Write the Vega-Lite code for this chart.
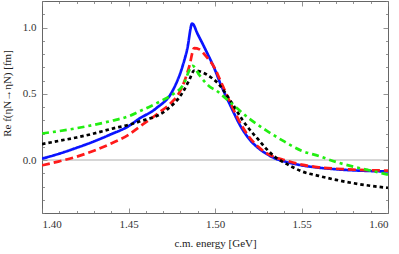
{
  "$schema": "https://vega.github.io/schema/vega-lite/v6.json",
  "width": 346,
  "height": 212,
  "autosize": "none",
  "padding": {"left": 42, "top": 1, "right": 11, "bottom": 41},
  "background": "white",
  "config": {
    "view": {"stroke": "#666", "strokeWidth": 1},
    "axis": {
      "grid": false,
      "domain": false,
      "labelFont": "Liberation Serif",
      "labelFontSize": 11,
      "labelColor": "#333",
      "titleFont": "Liberation Serif",
      "titleFontSize": 11,
      "titleFontWeight": "normal",
      "titleColor": "#222",
      "tickColor": "#777",
      "tickWidth": 0.8,
      "labelOverlap": false
    }
  },
  "datasets": {
    "curves": [
      {"E": 1.40, "f": 0.01, "s": "a"},
      {"E": 1.41, "f": 0.048, "s": "a"},
      {"E": 1.42, "f": 0.092, "s": "a"},
      {"E": 1.43, "f": 0.14, "s": "a"},
      {"E": 1.44, "f": 0.195, "s": "a"},
      {"E": 1.45, "f": 0.255, "s": "a"},
      {"E": 1.456, "f": 0.31, "s": "a"},
      {"E": 1.466, "f": 0.39, "s": "a"},
      {"E": 1.4756, "f": 0.525, "s": "a"},
      {"E": 1.4813, "f": 0.71, "s": "a"},
      {"E": 1.484, "f": 0.84, "s": "a"},
      {"E": 1.4868, "f": 1.03, "s": "a"},
      {"E": 1.49, "f": 0.95, "s": "a"},
      {"E": 1.495, "f": 0.82, "s": "a"},
      {"E": 1.50, "f": 0.68, "s": "a"},
      {"E": 1.5024, "f": 0.60, "s": "a"},
      {"E": 1.5093, "f": 0.40, "s": "a"},
      {"E": 1.515, "f": 0.25, "s": "a"},
      {"E": 1.52, "f": 0.155, "s": "a"},
      {"E": 1.525, "f": 0.09, "s": "a"},
      {"E": 1.53, "f": 0.045, "s": "a"},
      {"E": 1.535, "f": 0.01, "s": "a"},
      {"E": 1.54, "f": -0.01, "s": "a"},
      {"E": 1.55, "f": -0.04, "s": "a"},
      {"E": 1.56, "f": -0.058, "s": "a"},
      {"E": 1.57, "f": -0.07, "s": "a"},
      {"E": 1.58, "f": -0.078, "s": "a"},
      {"E": 1.59, "f": -0.083, "s": "a"},
      {"E": 1.60, "f": -0.087, "s": "a"},

      {"E": 1.40, "f": -0.04, "s": "b"},
      {"E": 1.41, "f": -0.01, "s": "b"},
      {"E": 1.42, "f": 0.025, "s": "b"},
      {"E": 1.43, "f": 0.07, "s": "b"},
      {"E": 1.44, "f": 0.125, "s": "b"},
      {"E": 1.45, "f": 0.19, "s": "b"},
      {"E": 1.4563, "f": 0.25, "s": "b"},
      {"E": 1.4679, "f": 0.36, "s": "b"},
      {"E": 1.4745, "f": 0.43, "s": "b"},
      {"E": 1.4794, "f": 0.51, "s": "b"},
      {"E": 1.4825, "f": 0.60, "s": "b"},
      {"E": 1.4852, "f": 0.71, "s": "b"},
      {"E": 1.488, "f": 0.845, "s": "b"},
      {"E": 1.491, "f": 0.835, "s": "b"},
      {"E": 1.495, "f": 0.78, "s": "b"},
      {"E": 1.50, "f": 0.69, "s": "b"},
      {"E": 1.5024, "f": 0.62, "s": "b"},
      {"E": 1.5093, "f": 0.42, "s": "b"},
      {"E": 1.515, "f": 0.27, "s": "b"},
      {"E": 1.52, "f": 0.17, "s": "b"},
      {"E": 1.525, "f": 0.10, "s": "b"},
      {"E": 1.53, "f": 0.05, "s": "b"},
      {"E": 1.535, "f": 0.02, "s": "b"},
      {"E": 1.54, "f": 0.0, "s": "b"},
      {"E": 1.55, "f": -0.035, "s": "b"},
      {"E": 1.56, "f": -0.055, "s": "b"},
      {"E": 1.57, "f": -0.066, "s": "b"},
      {"E": 1.58, "f": -0.073, "s": "b"},
      {"E": 1.59, "f": -0.077, "s": "b"},
      {"E": 1.60, "f": -0.08, "s": "b"},

      {"E": 1.40, "f": 0.12, "s": "c"},
      {"E": 1.41, "f": 0.145, "s": "c"},
      {"E": 1.42, "f": 0.17, "s": "c"},
      {"E": 1.43, "f": 0.20, "s": "c"},
      {"E": 1.44, "f": 0.235, "s": "c"},
      {"E": 1.45, "f": 0.265, "s": "c"},
      {"E": 1.4563, "f": 0.29, "s": "c"},
      {"E": 1.4717, "f": 0.375, "s": "c"},
      {"E": 1.4813, "f": 0.51, "s": "c"},
      {"E": 1.485, "f": 0.60, "s": "c"},
      {"E": 1.488, "f": 0.675, "s": "c"},
      {"E": 1.492, "f": 0.665, "s": "c"},
      {"E": 1.497, "f": 0.63, "s": "c"},
      {"E": 1.502, "f": 0.575, "s": "c"},
      {"E": 1.5093, "f": 0.44, "s": "c"},
      {"E": 1.516, "f": 0.30, "s": "c"},
      {"E": 1.52, "f": 0.23, "s": "c"},
      {"E": 1.525, "f": 0.155, "s": "c"},
      {"E": 1.53, "f": 0.08, "s": "c"},
      {"E": 1.535, "f": 0.02, "s": "c"},
      {"E": 1.54, "f": -0.02, "s": "c"},
      {"E": 1.545, "f": -0.055, "s": "c"},
      {"E": 1.55, "f": -0.085, "s": "c"},
      {"E": 1.56, "f": -0.12, "s": "c"},
      {"E": 1.57, "f": -0.15, "s": "c"},
      {"E": 1.58, "f": -0.175, "s": "c"},
      {"E": 1.59, "f": -0.195, "s": "c"},
      {"E": 1.60, "f": -0.21, "s": "c"},

      {"E": 1.40, "f": 0.20, "s": "d"},
      {"E": 1.42, "f": 0.24, "s": "d"},
      {"E": 1.44, "f": 0.295, "s": "d"},
      {"E": 1.45, "f": 0.33, "s": "d"},
      {"E": 1.456, "f": 0.365, "s": "d"},
      {"E": 1.468, "f": 0.44, "s": "d"},
      {"E": 1.475, "f": 0.49, "s": "d"},
      {"E": 1.4813, "f": 0.56, "s": "d"},
      {"E": 1.4871, "f": 0.71, "s": "d"},
      {"E": 1.491, "f": 0.64, "s": "d"},
      {"E": 1.4968, "f": 0.555, "s": "d"},
      {"E": 1.5006, "f": 0.525, "s": "d"},
      {"E": 1.5093, "f": 0.43, "s": "d"},
      {"E": 1.52, "f": 0.31, "s": "d"},
      {"E": 1.53, "f": 0.22, "s": "d"},
      {"E": 1.54, "f": 0.14, "s": "d"},
      {"E": 1.55, "f": 0.07, "s": "d"},
      {"E": 1.56, "f": 0.03, "s": "d"},
      {"E": 1.57, "f": -0.015, "s": "d"},
      {"E": 1.58, "f": -0.05, "s": "d"},
      {"E": 1.59, "f": -0.08, "s": "d"},
      {"E": 1.60, "f": -0.11, "s": "d"}
    ]
  },
  "resolve": {"axis": {"x": "independent", "y": "independent"}},
  "layer": [
    {
      "data": {"values": [{}]},
      "mark": {"type": "rule", "color": "#999", "strokeWidth": 0.8},
      "encoding": {
        "y": {"datum": 0, "type": "quantitative", "scale": {"domain": [-0.4, 1.2], "nice": false}, "axis": null}
      }
    },
    {
      "data": {"name": "curves"},
      "mark": {"type": "line", "strokeWidth": 2.7, "interpolate": "monotone", "clip": true},
      "encoding": {
        "x": {
          "field": "E", "type": "quantitative",
          "scale": {"domain": [1.40, 1.60], "nice": false, "zero": false},
          "axis": {
            "orient": "bottom",
            "title": "c.m. energy [GeV]",
            "titleY": 30,
            "titleBaseline": "middle",
            "values": [1.40, 1.41, 1.42, 1.43, 1.44, 1.45, 1.46, 1.47, 1.48, 1.49, 1.50, 1.51, 1.52, 1.53, 1.54, 1.55, 1.56, 1.57, 1.58, 1.59, 1.60],
            "labelExpr": "(round(datum.value*100) % 5 == 0) ? format(datum.value, '.2f') : ''",
            "tickSize": {"condition": {"test": "round(datum.value*100) % 5 == 0", "value": -5}, "value": -2.5},
            "labelPadding": 10
          }
        },
        "y": {
          "field": "f", "type": "quantitative",
          "scale": {"domain": [-0.4, 1.2], "nice": false, "zero": false},
          "axis": {
            "orient": "left",
            "title": "Re f(ηN→ηN) [fm]",
            "titleX": -35,
            "titleY": 92,
            "titleBaseline": "middle",
            "values": [-0.4, -0.3, -0.2, -0.1, 0, 0.1, 0.2, 0.3, 0.4, 0.5, 0.6, 0.7, 0.8, 0.9, 1.0, 1.1, 1.2],
            "labelExpr": "(round(datum.value*10) % 5 == 0) ? format(datum.value, '.1f') : ''",
            "tickSize": {"condition": {"test": "round(datum.value*10) % 5 == 0", "value": -5}, "value": -2.5},
            "labelPadding": 11
          }
        },
        "color": {
          "field": "s", "type": "nominal", "legend": null,
          "scale": {"domain": ["a", "b", "c", "d"], "range": ["#0a14ff", "#ff1a1a", "#000000", "#22ee11"]}
        },
        "strokeDash": {
          "field": "s", "type": "nominal", "legend": null,
          "scale": {"domain": ["a", "b", "c", "d"], "range": [[1, 0], [8, 4], [3.5, 3], [7, 4, 3, 4]]}
        }
      }
    },
    {
      "data": {"name": "curves"},
      "mark": {"type": "line", "opacity": 0},
      "encoding": {
        "x": {
          "field": "E", "type": "quantitative",
          "scale": {"domain": [1.40, 1.60], "nice": false, "zero": false},
          "axis": {
            "orient": "top", "title": null, "labels": false,
            "values": [1.40, 1.41, 1.42, 1.43, 1.44, 1.45, 1.46, 1.47, 1.48, 1.49, 1.50, 1.51, 1.52, 1.53, 1.54, 1.55, 1.56, 1.57, 1.58, 1.59, 1.60],
            "tickSize": {"condition": {"test": "round(datum.value*100) % 5 == 0", "value": -5}, "value": -2.5}
          }
        },
        "y": {
          "field": "f", "type": "quantitative",
          "scale": {"domain": [-0.4, 1.2], "nice": false, "zero": false},
          "axis": {
            "orient": "right", "title": null, "labels": false,
            "values": [-0.4, -0.3, -0.2, -0.1, 0, 0.1, 0.2, 0.3, 0.4, 0.5, 0.6, 0.7, 0.8, 0.9, 1.0, 1.1, 1.2],
            "tickSize": {"condition": {"test": "round(datum.value*10) % 5 == 0", "value": -5}, "value": -2.5}
          }
        },
        "detail": {"field": "s", "type": "nominal"}
      }
    }
  ]
}
